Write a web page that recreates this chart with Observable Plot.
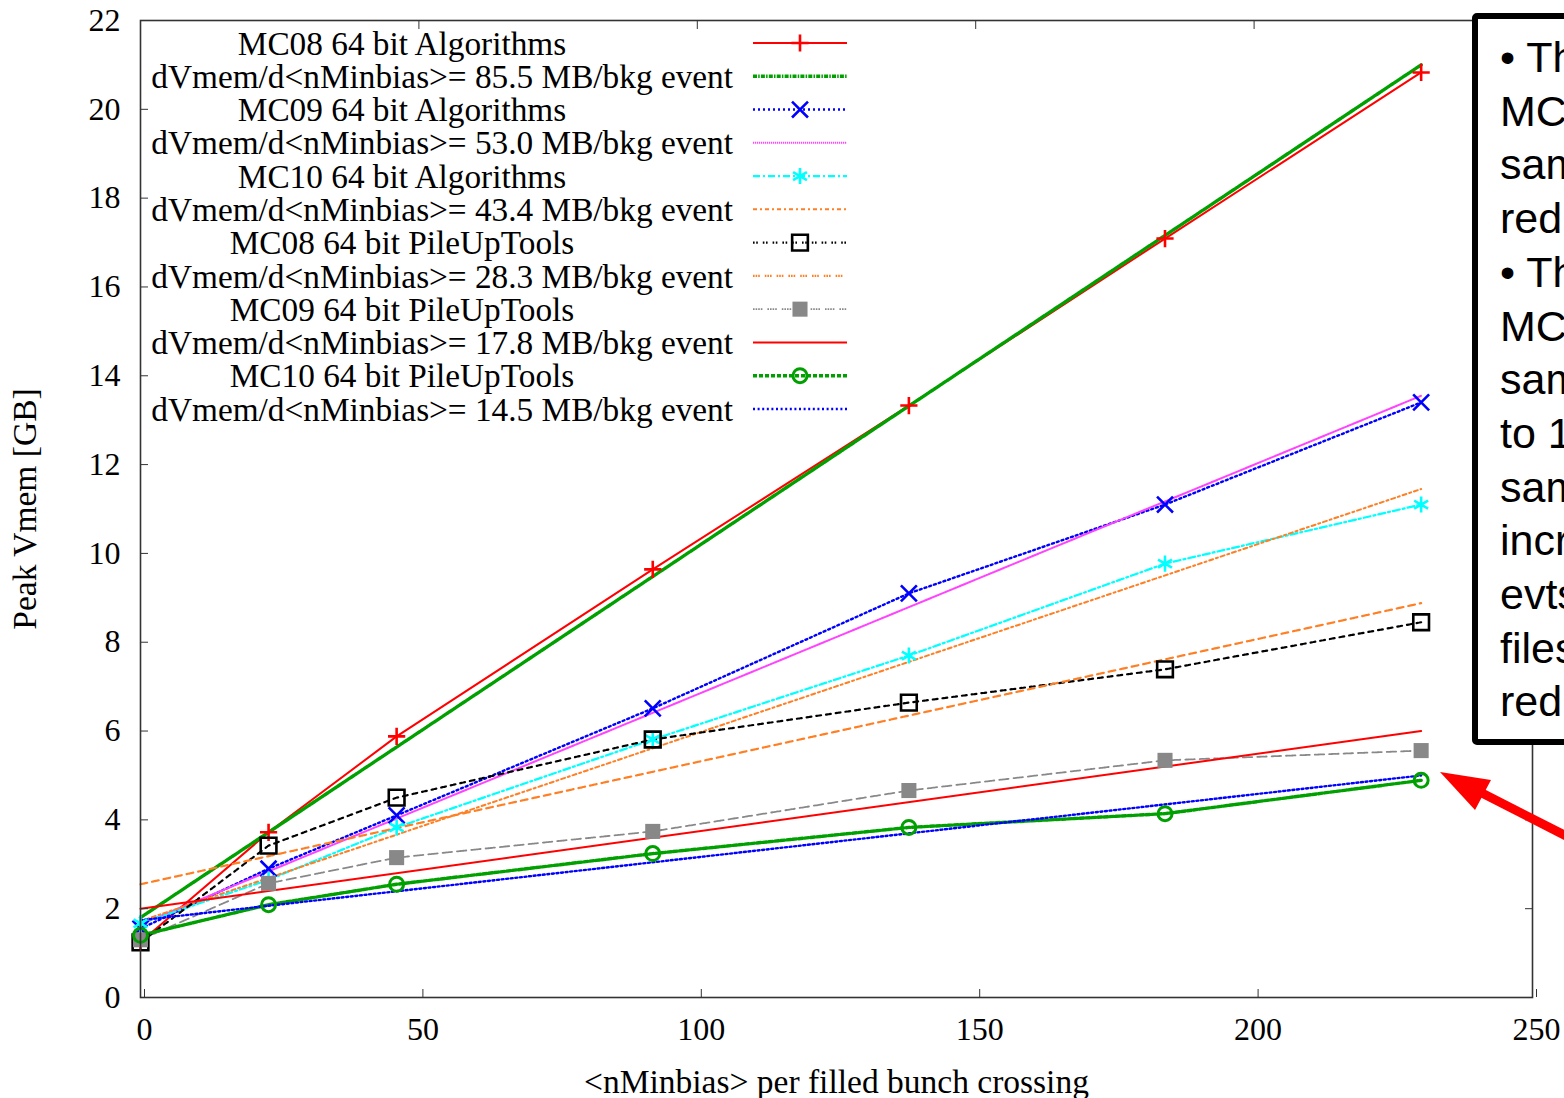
<!DOCTYPE html>
<html>
<head>
<meta charset="utf-8">
<script src="https://cdn.jsdelivr.net/npm/d3@7"></script>
<script src="https://cdn.jsdelivr.net/npm/@observablehq/plot@0.6"></script>
<style>
  html, body { margin: 0; padding: 0; background: #fff; overflow: hidden; }
  #wrap { position: relative; width: 1564px; height: 1098px; overflow: hidden; }
  #wrap > svg { position: absolute; left: 0; top: 0; }
  #note { position: absolute; left: 1472px; top: 13px; width: 400px; height: 708px;
          border: 6px solid #000; border-radius: 5px; background: #fff; box-sizing: content-box;
          font-family: "Liberation Sans", Arial, sans-serif; font-size: 43px; line-height: 53.7px;
          padding: 12px 0 0 22px; white-space: nowrap; color: #000; }
</style>
</head>
<body>
<div id="wrap"></div>
<script>
// ---- data ----
const nMinbias = [0, 23, 46, 92, 138, 184, 230];
const mc08Algorithms  = [1.25, 3.72, 5.88, 9.64, 13.33, 17.09, 20.83];
const mc09Algorithms  = [1.55, 2.90, 4.10, 6.51, 9.10, 11.10, 13.40];
const mc10Algorithms  = [1.67, 2.65, 3.83, 5.81, 7.70, 9.77, 11.10];
const mc08PileUpTools = [1.24, 3.42, 4.50, 5.81, 6.64, 7.39, 8.45];
const mc09PileUpTools = [1.30, 2.57, 3.15, 3.74, 4.66, 5.34, 5.56];
const mc10PileUpTools = [1.40, 2.09, 2.55, 3.24, 3.83, 4.14, 4.89];

// fit lines: value at first and last nMinbias
const fitX = [0, 230];
const fit855 = [1.80, 21.00];
const fit530 = [1.65, 13.55];
const fit434 = [1.72, 11.45];
const fit283 = [2.55, 8.88];
const fit178 = [2.00, 6.00];
const fit145 = [1.74, 5.00];

const legendLabels = [
  "MC08 64 bit Algorithms",
  "dVmem/d<nMinbias>= 85.5 MB/bkg event",
  "MC09 64 bit Algorithms",
  "dVmem/d<nMinbias>= 53.0 MB/bkg event",
  "MC10 64 bit Algorithms",
  "dVmem/d<nMinbias>= 43.4 MB/bkg event",
  "MC08 64 bit PileUpTools",
  "dVmem/d<nMinbias>= 28.3 MB/bkg event",
  "MC09 64 bit PileUpTools",
  "dVmem/d<nMinbias>= 17.8 MB/bkg event",
  "MC10 64 bit PileUpTools",
  "dVmem/d<nMinbias>= 14.5 MB/bkg event"
];

const xTicks = [0, 50, 100, 150, 200, 250];
const yTicks = [0, 2, 4, 6, 8, 10, 12, 14, 16, 18, 20, 22];
const xLabel = "<nMinbias> per filled bunch crossing";
const yLabel = "Peak Vmem [GB]";
const noteLines = ["• The", "MC09", "sample", "reduced", "• The", "MC10", "sample", "to 10", "sample", "increase", "evts", "files", "reduced"];

// ---- styles ----
const GREEN = "#00a000", ORANGE = "#ff7f24";
const seriesList = [
  {vals: mc08Algorithms,  x: nMinbias, stroke: "#ff0000", width: 2,   dash: null,            symbol: "plus",     r: 5.6, fill: "none"},
  {vals: fit855,          x: fitX,     stroke: GREEN,     width: 3.4, dash: "4,1.2,1.5,1.2", symbol: null},
  {vals: mc09Algorithms,  x: nMinbias, stroke: "#0000ff", width: 2.4, dash: "2,3",           symbol: "times",    r: 7.3, fill: "none"},
  {vals: fit530,          x: fitX,     stroke: "#ff44ff", width: 2,   dash: "1.2,0.8",       symbol: null},
  {vals: mc10Algorithms,  x: nMinbias, stroke: "#00ffff", width: 2.2, dash: "7,3,2,3",       symbol: "asterisk", r: 7.6, fill: "none"},
  {vals: fit434,          x: fitX,     stroke: ORANGE,    width: 2,   dash: "4,3,2,3",       symbol: null},
  {vals: mc08PileUpTools, x: nMinbias, stroke: "#000000", width: 2.2, dash: "1.6,1.6,1.6,5", symbol: "square2",  r: 10,  fill: "none"},
  {vals: fit283,          x: fitX,     stroke: ORANGE,    width: 2.2, dash: "1.6,1,1.6,1,1.6,5", symbol: null},
  {vals: mc09PileUpTools, x: nMinbias, stroke: "#888888", width: 1.8, dash: "1.6,1,1.6,1,1.6,1,1.6,5", symbol: "square", r: 8.5, fill: "#888888"},
  {vals: fit178,          x: fitX,     stroke: "#ff0000", width: 2,   dash: null,            symbol: null},
  {vals: mc10PileUpTools, x: nMinbias, stroke: GREEN,     width: 3.4, dash: "4,2",           symbol: "circle",   r: 7,   fill: "none"},
  {vals: fit145,          x: fitX,     stroke: "#0000ff", width: 2.4, dash: "2,2.6",         symbol: null}
];

const marks = [];
for (const s of seriesList) {
  const data = s.vals.map((v, i) => ({x: s.x[i], y: v}));
  marks.push(Plot.line(data, {x: "x", y: "y", stroke: s.stroke, strokeWidth: s.width, strokeDasharray: s.dash || undefined}));
}
for (const s of seriesList) {
  if (!s.symbol) continue;
  const data = s.vals.map((v, i) => ({x: s.x[i], y: v}));
  if (s.fill !== "none") {
    marks.push(Plot.dot(data, {x: "x", y: "y", symbol: s.symbol, r: s.r, fill: s.fill, stroke: "none"}));
  } else {
    marks.push(Plot.dot(data, {x: "x", y: "y", symbol: s.symbol, r: s.r, stroke: s.stroke, strokeWidth: s.symbol === "circle" ? 3 : 2.6, fill: "none"}));
  }
}

const serif = "Liberation Serif, 'Times New Roman', serif";
const plot = Plot.plot({
  width: 1564, height: 1098,
  marginLeft: 140, marginRight: 32, marginTop: 20, marginBottom: 101,
  x: {domain: [0, 250]},
  y: {domain: [0, 22]},
  style: {fontFamily: serif, fontSize: "32px", color: "#000", background: "#fff", overflow: "visible"},
  marks: [
    ...marks,
    Plot.axisY(yTicks, {anchor: "left", tickSize: -8, tickPadding: 28, label: null, fontSize: 32, stroke: "#333"}),
    Plot.axisY(yTicks, {anchor: "right", tickSize: -8, tickFormat: () => "", label: null, stroke: "#333"}),
    Plot.axisX(xTicks, {anchor: "bottom", tickSize: -8, tickPadding: 28, label: null, fontSize: 32, dx: 4, stroke: "#333"}),
    Plot.axisX(xTicks, {anchor: "top", tickSize: -8, tickFormat: () => "", label: null, stroke: "#333"}),
    Plot.frame({stroke: "#333", strokeWidth: 1.6}),
    Plot.text([xLabel], {frameAnchor: "bottom", dy: 95, fontSize: 33.5, text: d => d}),
    Plot.text([yLabel], {frameAnchor: "left", dx: -115, rotate: -90, textAnchor: "middle", fontSize: 33.5, text: d => d})
  ]
});
const wrap = document.getElementById("wrap");
wrap.appendChild(plot);

// ---- legend (key inside the plot frame) ----
const ov = d3.select(wrap).append("svg")
  .attr("width", 1564).attr("height", 1098)
  .style("position", "absolute").style("left", 0).style("top", 0);
const rowY0 = 43, rowDy = 33.27;
legendLabels.forEach((lab, i) => {
  const s = seriesList[i];
  const y = rowY0 + i * rowDy;
  const isTitle = i % 2 === 0;
  ov.append("text")
    .attr("x", isTitle ? 402 : 733).attr("y", y)
    .attr("dy", "0.35em")
    .attr("text-anchor", isTitle ? "middle" : "end")
    .style("font-family", serif)
    .style("font-size", "33.3px")
    .text(lab);
  ov.append("line").attr("x1", 753).attr("x2", 847).attr("y1", y).attr("y2", y)
    .attr("stroke", s.stroke).attr("stroke-width", s.width)
    .attr("stroke-dasharray", s.dash || null);
  if (s.symbol) {
    const map = {plus: d3.symbolPlus, times: d3.symbolTimes, asterisk: d3.symbolAsterisk, square2: d3.symbolSquare2, square: d3.symbolSquare, circle: d3.symbolCircle};
    const path = d3.symbol(map[s.symbol], Math.PI * s.r * s.r)();
    const p = ov.append("path").attr("d", path).attr("transform", `translate(800,${y})`);
    if (s.fill !== "none") p.attr("fill", s.fill);
    else p.attr("fill", "none").attr("stroke", s.stroke).attr("stroke-width", s.symbol === "circle" ? 3 : 2.6);
  }
});

// ---- note box ----
const note = document.createElement("div");
note.id = "note";
note.innerHTML = noteLines.map(t => `<div>${t}</div>`).join("");
wrap.appendChild(note);

// ---- red arrow annotation ----
const arr = d3.select(wrap).append("svg")
  .attr("width", 1564).attr("height", 1098)
  .style("position", "absolute").style("left", 0).style("top", 0);
arr.append("line").attr("x1", 1478).attr("y1", 791).attr("x2", 1580).attr("y2", 843)
  .attr("stroke", "#ff0000").attr("stroke-width", 9);
arr.append("polygon").attr("points", "1440,772 1491,780 1475,810").attr("fill", "#ff0000");
</script>
</body>
</html>
